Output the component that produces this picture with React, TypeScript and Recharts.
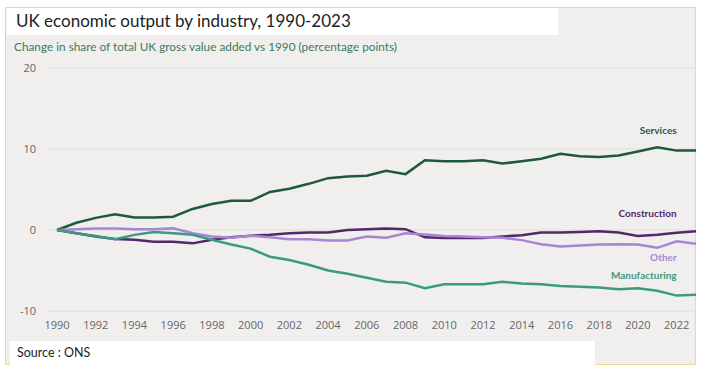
import { LineChart, Line, XAxis, YAxis, CartesianGrid, LabelList } from "recharts";

const years = [
  1990, 1991, 1992, 1993, 1994, 1995, 1996, 1997, 1998, 1999, 2000, 2001, 2002,
  2003, 2004, 2005, 2006, 2007, 2008, 2009, 2010, 2011, 2012, 2013, 2014, 2015,
  2016, 2017, 2018, 2019, 2020, 2021, 2022, 2023,
];

const services = [
  0, 0.9, 1.5, 1.95, 1.55, 1.55, 1.65, 2.6, 3.2, 3.6, 3.6, 4.7, 5.1, 5.7, 6.4,
  6.6, 6.7, 7.3, 6.9, 8.6, 8.5, 8.5, 8.6, 8.2, 8.5, 8.8, 9.4, 9.1, 9.0, 9.2, 9.7,
  10.2, 9.8, 9.8,
];

const construction = [
  0, -0.4, -0.8, -1.1, -1.2, -1.45, -1.45, -1.65, -1.2, -0.9, -0.7, -0.6, -0.4,
  -0.3, -0.3, 0, 0.1, 0.2, 0.1, -0.9, -1.0, -0.95, -1.0, -0.8, -0.65, -0.3, -0.3,
  -0.25, -0.15, -0.3, -0.75, -0.6, -0.35, -0.15,
];

const other = [
  0, 0.1, 0.2, 0.2, 0.1, 0.1, 0.2, -0.4, -0.8, -0.95, -0.7, -0.9, -1.15, -1.15,
  -1.3, -1.3, -0.8, -0.95, -0.4, -0.55, -0.75, -0.8, -0.9, -0.95, -1.25, -1.75,
  -2.05, -1.9, -1.8, -1.75, -1.8, -2.2, -1.4, -1.7,
];

const manufacturing = [
  0, -0.4, -0.75, -1.15, -0.6, -0.25, -0.4, -0.6, -1.2, -1.8, -2.3, -3.3, -3.7,
  -4.3, -5.0, -5.4, -5.9, -6.4, -6.5, -7.2, -6.7, -6.7, -6.7, -6.4, -6.6, -6.7,
  -6.9, -7.0, -7.1, -7.3, -7.2, -7.5, -8.1, -8.0,
];

const xTicks = [
  1990, 1992, 1994, 1996, 1998, 2000, 2002, 2004, 2006, 2008, 2010, 2012, 2014,
  2016, 2018, 2020, 2022,
];
const yTicks = [-10, 0, 10, 20];

const data = years.map((year, i) => ({
  year,
  services: services[i],
  construction: construction[i],
  other: other[i],
  manufacturing: manufacturing[i],
}));

const series = [
  { key: "services", name: "Services", color: "#1d5a3d", dy: -19 },
  { key: "construction", name: "Construction", color: "#55266a", dy: -18 },
  { key: "other", name: "Other", color: "#a886d3", dy: 17 },
  { key: "manufacturing", name: "Manufacturing", color: "#3b9a83", dy: -19 },
];

const labelIndex = years.indexOf(2022);

function endLabel(name: string, color: string, dy: number) {
  return (props: any) => {
    if (props.index !== labelIndex) return null;
    return (
      <text
        x={props.x}
        y={props.y + dy}
        textAnchor="end"
        dominantBaseline="middle"
        fill={color}
        fontSize={10}
        fontWeight={700}
        fontFamily="Lato, 'Open Sans', sans-serif"
      >
        {name}
      </text>
    );
  };
}

export default function App() {
  return (
    <div
      style={{
        position: "absolute",
        left: 0,
        top: 0,
        width: 705,
        height: 370,
        background: "#fff",
        fontFamily: "Lato, 'Open Sans', sans-serif",
      }}
    >
      <div
        style={{
          position: "absolute",
          left: 5,
          top: 7,
          width: 691,
          height: 358,
          background: "#f0efed",
          border: "1px solid #efd98f",
          boxSizing: "border-box",
        }}
      />
      <div
        style={{
          position: "absolute",
          left: 7,
          top: 8,
          width: 551,
          height: 27,
          background: "#fff",
        }}
      />
      <div
        style={{
          position: "absolute",
          left: 16,
          top: 10,
          fontSize: 17,
          color: "#222",
          fontFamily: "Lato, sans-serif",
        }}
      >
        UK economic output by industry, 1990-2023
      </div>
      <div
        style={{
          position: "absolute",
          left: 14,
          top: 39,
          fontSize: 11.8,
          color: "#3e7a5e",
          fontFamily: "Lato, sans-serif",
        }}
      >
        Change in share of total UK gross value added vs 1990 (percentage points)
      </div>
      <div
        style={{
          position: "absolute",
          left: 10,
          top: 341,
          width: 585,
          height: 24,
          background: "#fff",
        }}
      />
      <div
        style={{
          position: "absolute",
          left: 17,
          top: 345,
          fontSize: 12.5,
          color: "#222",
          fontFamily: "Lato, sans-serif",
        }}
      >
        Source : ONS
      </div>
      <div style={{ position: "absolute", left: 0, top: 0 }}>
        <LineChart
          width={705}
          height={370}
          data={data}
          margin={{ top: 68, right: 9, bottom: 29, left: 0 }}
        >
          <CartesianGrid vertical={false} stroke="#dcdcdc" strokeWidth={1} />
          <XAxis
            dataKey="year"
            type="number"
            domain={[1990, 2023]}
            ticks={xTicks}
            interval={0}
            padding={{ left: 10, right: 0 }}
            axisLine={false}
            tickLine={false}
            tickSize={8}
            tick={{ fill: "#666", fontSize: 11, fontFamily: "'Open Sans', sans-serif" }}
          />
          <YAxis
            type="number"
            domain={[-10, 20]}
            ticks={yTicks}
            width={47}
            axisLine={false}
            tickLine={false}
            tickSize={9}
            tick={{ fill: "#666", fontSize: 11, fontFamily: "'Open Sans', sans-serif" }}
          />
          {series.map((s) => (
            <Line
              key={s.key}
              dataKey={s.key}
              name={s.name}
              stroke={s.color}
              strokeWidth={2.5}
              dot={false}
              type="linear"
              isAnimationActive={false}
            >
              <LabelList dataKey={s.key} content={endLabel(s.name, s.color, s.dy)} />
            </Line>
          ))}
        </LineChart>
      </div>
    </div>
  );
}
